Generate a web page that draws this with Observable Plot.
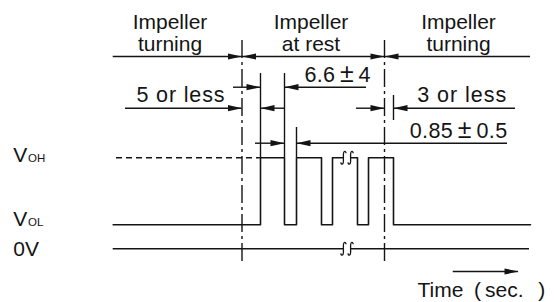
<!DOCTYPE html>
<html><head><meta charset="utf-8">
<script src="https://cdn.jsdelivr.net/npm/d3@7"></script>
<script src="https://cdn.jsdelivr.net/npm/@observablehq/plot@0.6"></script>
<style>
html,body{margin:0;padding:0;background:#fff;}
#chart svg{display:block;}
</style></head><body><div id="chart"></div>
<script>
// ---------- Data (diagram units: x = time axis, y = level / annotation row) ----------
const phaseNames   = ["Impeller\nturning", "Impeller\nat rest", "Impeller\nturning"];
const phaseCenters = [169.5, 310.5, 458];
const boundaryTimes = [241.5, 384];                 // impeller stops / restarts
const pulseEdgeTimes = [260, 284, 296, 321, 332, 357, 368, 393]; // rise, fall, rise, ...
const signalStart = 112.7, signalEnd = 530;
const levelNames  = ["VOH", "VOL", "0V"];
const levelValues = [157.3, 224.3, 248.3];
const breakTimes  = [346.5, 346.5];
const breakLevels = ["VOH", "0V"];

// dimension annotations: measured interval [from,to], row, leader tails
const dimRows    = [56, 86.7, 107.7, 107.7, 142.7];
const dimFrom    = [241.5, 260, 241.5, 384, 284];
const dimTo      = [384, 284, 260, 393, 296];
const dimTailL   = [112.7, 233, 125, 356, 255];
const dimTailR   = [530, 366, 284, 515, 507];
const dimInner   = [true, false, false, false, false];  // arrows also inside the interval
const dimLabels  = [null, "6.6±4", "5 or less", "3 or less", "0.85±0.5"];
const dimLabelX  = [null, 304, 136, 416.7, 409.3];
const dimLabelY  = [null, 81, 101.7, 101.7, 137.2];

// extension lines [x, top, bottom]
const extX   = [260, 284, 296, 393];
const extTop = [73, 73, 127, 95];
const extBot = [157.3, 157.3, 157.3, 120];

const timeArrow = {x1: 452.7, x2: 518, y: 271};
const timeLabel = "Time\u2002(\u2009sec.\u2002\u2009)";

// ---------- Styles ----------
const ink = "#141414";
const labelWidths = {"6.6±4": 66, "5 or less": 88, "3 or less": 89, "0.85±0.5": 97.3};
const headLen = 14, headHalf = 3.1;
const arrowR = {draw(c){ c.moveTo(0,0); c.lineTo(-headLen,-headHalf); c.lineTo(-headLen,headHalf); c.closePath(); }};
const arrowL = {draw(c){ c.moveTo(0,0); c.lineTo(headLen,-headHalf); c.lineTo(headLen,headHalf); c.closePath(); }};
const maskSym = {draw(c){ c.rect(-3.4,-2.4,6.8,4.8); }};
const squiggleSym = {draw(c){
  for (const cx of [-3.6, 3.6]) {
    c.moveTo(cx+2.6,-4.6);
    c.bezierCurveTo(cx+2.4,-7, cx+0.1,-7.2, cx,-3.6);
    c.lineTo(cx,3.6);
    c.bezierCurveTo(cx-0.1,7.2, cx-2.4,7, cx-2.6,4.6);
  }
}};

// ---------- Derived tables ----------
const lvl = name => levelValues[levelNames.indexOf(name)];
const wave = [{t: signalStart, v: lvl("VOL")}];
pulseEdgeTimes.forEach((t, i) => wave.push({t, v: i % 2 === 0 ? lvl("VOH") : lvl("VOL")}));
wave.push({t: signalEnd, v: lvl("VOL")});

const segs = [], heads = [];
dimRows.forEach((row, i) => {
  segs.push({y: row, x1: dimTailL[i], x2: dimFrom[i]});
  segs.push({y: row, x1: dimTo[i], x2: dimTailR[i]});
  heads.push({x: dimFrom[i], y: row, dir: "R"});
  heads.push({x: dimTo[i], y: row, dir: "L"});
  if (dimInner[i]) {
    segs.push({y: row, x1: dimFrom[i], x2: dimTo[i]});
    heads.push({x: dimFrom[i], y: row, dir: "L"});
    heads.push({x: dimTo[i], y: row, dir: "R"});
  }
});
segs.push({y: timeArrow.y, x1: timeArrow.x1, x2: timeArrow.x2});
heads.push({x: timeArrow.x2, y: timeArrow.y, dir: "R"});

const dimText = dimLabels.map((s, i) => ({s, x: dimLabelX[i], y: dimLabelY[i]})).filter(d => d.s);
const breaks = breakTimes.map((t, i) => ({t, v: lvl(breakLevels[i])}));
const exts = extX.map((x, i) => ({x, y1: extTop[i], y2: extBot[i]}));

const levelLabels = [
  {main: "V", sub: "OH", v: 161.7},
  {main: "V", sub: "OL", v: 225},
  {main: "0V", sub: "", v: 255}
];

const svg = Plot.plot({
  width: 554, height: 302, margin: 0,
  x: {type: "linear", domain: [0, 554], range: [0, 554], axis: null},
  y: {type: "linear", domain: [0, 302], range: [0, 302], axis: null},
  style: {fontFamily: "'Liberation Sans', Arial, 'Noto Sans CJK JP', sans-serif", fontSize: "21px", color: ink, background: "#fff", overflow: "visible"},
  marks: [
    // phase boundaries (dash-dot)
    Plot.ruleX(boundaryTimes, {x: d => d, y1: 40, y2: 265, stroke: ink, strokeWidth: 1.4, strokeDasharray: "18,4,3,4"}),
    // VOH reference (dashed)
    Plot.ruleY([lvl("VOH")], {y: d => d, x1: 116, x2: pulseEdgeTimes[0], stroke: ink, strokeWidth: 1.4, strokeDasharray: "6,4"}),
    // 0V line
    Plot.ruleY([lvl("0V")], {y: d => d, x1: signalStart, x2: signalEnd - 1, stroke: ink, strokeWidth: 1.5}),
    // output waveform
    Plot.line(wave, {x: "t", y: "v", curve: "step-after", stroke: ink, strokeWidth: 1.6}),
    // extension lines
    Plot.ruleX(exts, {x: "x", y1: "y1", y2: "y2", stroke: ink, strokeWidth: 1.4}),
    // dimension lines
    Plot.ruleY(segs, {y: "y", x1: "x1", x2: "x2", stroke: ink, strokeWidth: 1.4}),
    Plot.dot(heads.filter(d => d.dir === "R"), {x: "x", y: "y", r: 4, symbol: arrowR, fill: ink, stroke: "none"}),
    Plot.dot(heads.filter(d => d.dir === "L"), {x: "x", y: "y", r: 4, symbol: arrowL, fill: ink, stroke: "none"}),
    // break marks
    Plot.dot(breaks, {x: "t", y: "v", r: 4, symbol: maskSym, fill: "#fff", stroke: "none"}),
    Plot.dot(breaks, {x: "t", y: "v", r: 4, symbol: squiggleSym, fill: "none", stroke: ink, strokeWidth: 1.3}),
    // phase titles
    Plot.text(phaseNames, {x: (d, i) => phaseCenters[i], y: 50, text: d => d, textAnchor: "middle", lineAnchor: "bottom", lineHeight: 1.04, fill: ink, fontSize: 21}),
    // dimension labels
    Plot.text(dimText, {x: "x", y: "y", text: "s", textAnchor: "start", lineAnchor: "bottom", fill: ink, fontSize: 21.5}),
    // level labels
    Plot.text(levelLabels, {x: 12.7, y: "v", text: "main", textAnchor: "start", lineAnchor: "bottom", fill: ink, fontSize: 21}),
    Plot.text(levelLabels, {x: 27.5, y: "v", text: "sub", textAnchor: "start", lineAnchor: "bottom", fill: ink, fontSize: 11.5}),
    // time label
    Plot.text([timeLabel], {x: 417, y: 296.7, text: d => d, textAnchor: "start", lineAnchor: "bottom", fill: ink, fontSize: 21})
  ]
});

// text fitting: enlarged ± sign, fitted lengths
const ns = "http://www.w3.org/2000/svg";
svg.querySelectorAll("text").forEach(t => {
  const s = t.textContent;
  if (!labelWidths[s]) return;
  if (s.includes("±")) {
    const [a, b] = s.split("±");
    t.textContent = "";
    const t1 = document.createElementNS(ns, "tspan"); t1.textContent = a + "\u2009";
    const t2 = document.createElementNS(ns, "tspan"); t2.textContent = "±"; t2.setAttribute("font-size", "25");
    const t3 = document.createElementNS(ns, "tspan"); t3.textContent = "\u2009" + b;
    t.append(t1, t2, t3);
  }
  t.setAttribute("textLength", labelWidths[s]);
  t.setAttribute("lengthAdjust", "spacing");
});
document.getElementById("chart").appendChild(svg);
</script></body></html>
